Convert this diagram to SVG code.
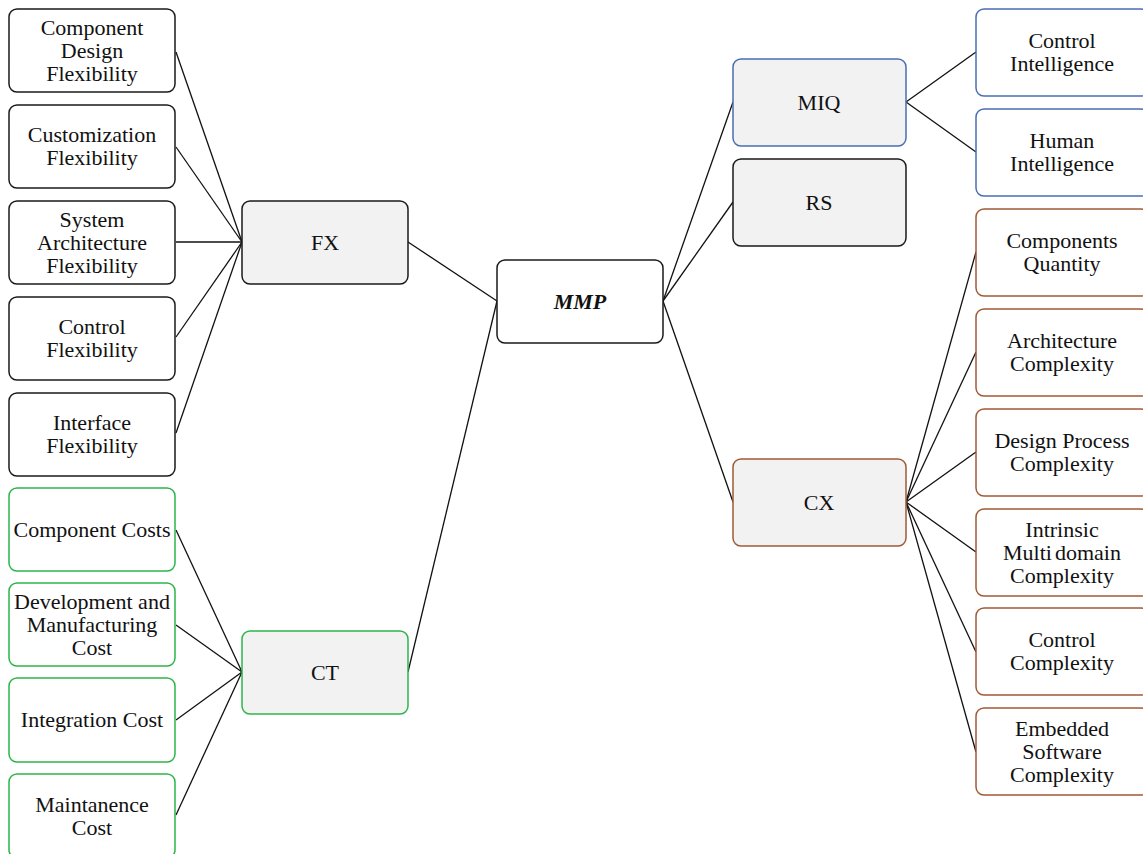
<svg xmlns="http://www.w3.org/2000/svg" width="1143" height="854" viewBox="0 0 1143 854">
  <style>
    .box { fill: #ffffff; stroke-width: 1.5; }
    .hub { fill: #f2f2f2; stroke-width: 1.5; }
    .k { stroke: #1a1a1a; }
    .b { stroke: #4a6db3; }
    .g { stroke: #2bb54a; }
    .r { stroke: #a05a35; }
    text { font-family: "Liberation Serif", "Times New Roman", serif; font-size: 22px; fill: #111111; text-anchor: middle; }
    .mmp { font-weight: bold; font-style: italic; }
    #connectors line { stroke: #111111; stroke-width: 1.3; }
  </style>

  <!-- connectors -->
  <g id="connectors">
    <!-- flexibility leaves to FX -->
    <line x1="176" y1="52" x2="242" y2="242"/>
    <line x1="176" y1="147" x2="242" y2="242"/>
    <line x1="176" y1="242" x2="242" y2="242"/>
    <line x1="176" y1="337" x2="242" y2="242"/>
    <line x1="176" y1="433" x2="242" y2="242"/>
    <!-- cost leaves to CT -->
    <line x1="176" y1="530" x2="242" y2="672"/>
    <line x1="176" y1="625" x2="242" y2="672"/>
    <line x1="176" y1="720" x2="242" y2="672"/>
    <line x1="176" y1="815" x2="242" y2="672"/>
    <!-- FX / CT to MMP -->
    <line x1="408" y1="242" x2="497" y2="301"/>
    <line x1="408" y1="672" x2="497" y2="301"/>
    <!-- MMP to MIQ / RS / CX -->
    <line x1="663" y1="301" x2="733" y2="102"/>
    <line x1="663" y1="301" x2="733" y2="202"/>
    <line x1="663" y1="301" x2="733" y2="502"/>
    <!-- MIQ leaves -->
    <line x1="906" y1="102" x2="976" y2="52"/>
    <line x1="906" y1="102" x2="976" y2="152"/>
    <!-- CX leaves -->
    <line x1="906" y1="502" x2="976" y2="252"/>
    <line x1="906" y1="502" x2="976" y2="352"/>
    <line x1="906" y1="502" x2="976" y2="452"/>
    <line x1="906" y1="502" x2="976" y2="552"/>
    <line x1="906" y1="502" x2="976" y2="652"/>
    <line x1="906" y1="502" x2="976" y2="752"/>
  </g>

  <!-- flexibility leaves -->
  <g id="component-design-flexibility">
    <rect class="box k" x="9" y="9" width="166" height="83" rx="8"/>
    <text x="92" y="35">Component</text>
    <text x="92" y="58">Design</text>
    <text x="92" y="81">Flexibility</text>
  </g>
  <g id="customization-flexibility">
    <rect class="box k" x="9" y="105" width="166" height="83" rx="8"/>
    <text x="92" y="142">Customization</text>
    <text x="92" y="165">Flexibility</text>
  </g>
  <g id="system-architecture-flexibility">
    <rect class="box k" x="9" y="201" width="166" height="83" rx="8"/>
    <text x="92" y="227">System</text>
    <text x="92" y="250">Architecture</text>
    <text x="92" y="273">Flexibility</text>
  </g>
  <g id="control-flexibility">
    <rect class="box k" x="9" y="297" width="166" height="83" rx="8"/>
    <text x="92" y="334">Control</text>
    <text x="92" y="357">Flexibility</text>
  </g>
  <g id="interface-flexibility">
    <rect class="box k" x="9" y="393" width="166" height="83" rx="8"/>
    <text x="92" y="430">Interface</text>
    <text x="92" y="453">Flexibility</text>
  </g>

  <!-- cost leaves -->
  <g id="component-costs">
    <rect class="box g" x="9" y="488" width="166" height="83" rx="8"/>
    <text x="92" y="537">Component Costs</text>
  </g>
  <g id="development-manufacturing-cost">
    <rect class="box g" x="9" y="583" width="166" height="83" rx="8"/>
    <text x="92" y="609">Development and</text>
    <text x="92" y="632">Manufacturing</text>
    <text x="92" y="655">Cost</text>
  </g>
  <g id="integration-cost">
    <rect class="box g" x="9" y="678" width="166" height="84" rx="8"/>
    <text x="92" y="727">Integration Cost</text>
  </g>
  <g id="maintanence-cost">
    <rect class="box g" x="9" y="774" width="166" height="84" rx="8"/>
    <text x="92" y="812">Maintanence</text>
    <text x="92" y="835">Cost</text>
  </g>

  <!-- hubs -->
  <g id="fx">
    <rect class="hub k" x="242" y="201" width="166" height="83" rx="8"/>
    <text x="325" y="250">FX</text>
  </g>
  <g id="ct">
    <rect class="hub g" x="242" y="631" width="166" height="83" rx="8"/>
    <text x="325" y="680">CT</text>
  </g>
  <g id="mmp">
    <rect class="box k" x="497" y="260" width="166" height="83" rx="8"/>
    <text class="mmp" x="580" y="309">MMP</text>
  </g>
  <g id="miq">
    <rect class="hub b" x="733" y="59" width="173" height="87" rx="8"/>
    <text x="819" y="110">MIQ</text>
  </g>
  <g id="rs">
    <rect class="hub k" x="733" y="159" width="173" height="87" rx="8"/>
    <text x="819" y="210">RS</text>
  </g>
  <g id="cx">
    <rect class="hub r" x="733" y="459" width="173" height="87" rx="8"/>
    <text x="819" y="510">CX</text>
  </g>

  <!-- intelligence leaves -->
  <g id="control-intelligence">
    <rect class="box b" x="976" y="9" width="173" height="87" rx="8"/>
    <text x="1062" y="48">Control</text>
    <text x="1062" y="71">Intelligence</text>
  </g>
  <g id="human-intelligence">
    <rect class="box b" x="976" y="109" width="173" height="87" rx="8"/>
    <text x="1062" y="148">Human</text>
    <text x="1062" y="171">Intelligence</text>
  </g>

  <!-- complexity leaves -->
  <g id="components-quantity">
    <rect class="box r" x="976" y="209" width="173" height="87" rx="8"/>
    <text x="1062" y="248">Components</text>
    <text x="1062" y="271">Quantity</text>
  </g>
  <g id="architecture-complexity">
    <rect class="box r" x="976" y="309" width="173" height="87" rx="8"/>
    <text x="1062" y="348">Architecture</text>
    <text x="1062" y="371">Complexity</text>
  </g>
  <g id="design-process-complexity">
    <rect class="box r" x="976" y="409" width="173" height="87" rx="8"/>
    <text x="1062" y="448">Design Process</text>
    <text x="1062" y="471">Complexity</text>
  </g>
  <g id="intrinsic-multidomain-complexity">
    <rect class="box r" x="976" y="509" width="173" height="87" rx="8"/>
    <text x="1062" y="537">Intrinsic</text>
    <text x="1062" y="560">Multi<tspan dx="3">domain</tspan></text>
    <text x="1062" y="583">Complexity</text>
  </g>
  <g id="control-complexity">
    <rect class="box r" x="976" y="608" width="173" height="87" rx="8"/>
    <text x="1062" y="647">Control</text>
    <text x="1062" y="670">Complexity</text>
  </g>
  <g id="embedded-software-complexity">
    <rect class="box r" x="976" y="708" width="173" height="87" rx="8"/>
    <text x="1062" y="736">Embedded</text>
    <text x="1062" y="759">Software</text>
    <text x="1062" y="782">Complexity</text>
  </g>
</svg>
